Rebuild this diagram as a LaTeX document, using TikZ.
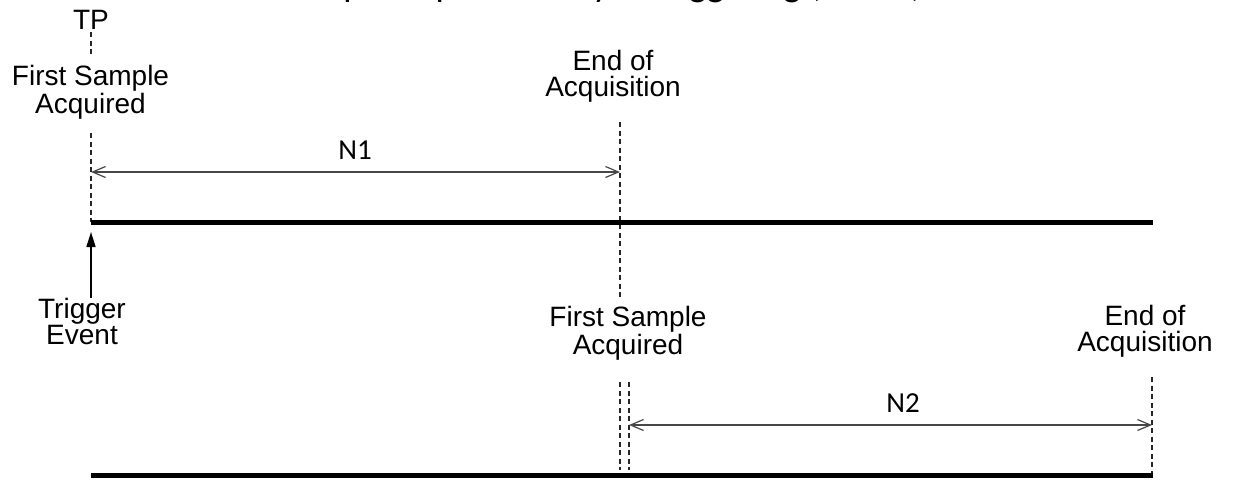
\documentclass[tikz,border=0pt]{standalone}
\usepackage{fontspec}
\setmainfont{Liberation Sans}
\newfontfamily\calib{Carlito}
\usetikzlibrary{arrows.meta}
\begin{document}
\begin{tikzpicture}[x=1pt,y=-1pt,
  lbl/.style={font=\fontsize{28}{25.5}\selectfont, align=center, anchor=base, inner sep=0pt},
  nlbl/.style={font=\calib\fontsize{29}{32}\selectfont, anchor=base, inner sep=0pt},
  marker/.style={draw=black!85, line width=1.2pt, dash pattern=on 5pt off 3.5pt},
  timeline/.style={draw=black, line width=5pt},
  span/.style={draw=black!72, line width=1.6pt, {Straight Barb[length=13pt,width=11pt,line width=1.2pt]}-{Straight Barb[length=13pt,width=11pt,line width=1.2pt]}},
  trig/.style={draw=black, line width=1.6pt, -{Triangle[length=15pt,width=9pt]}}]
\useasboundingbox (0,0) rectangle (1233,480);
% title (cut off by the page edge, as in the reference)
\node[font=\calib\fontsize{37}{40}\selectfont, anchor=base west, inner sep=0pt] (title) at (279,-4) {Sample Capture Delay Retriggering (TP = 0)};
% labels (anchor = baseline of the last line)
\node[lbl] (tp) at (91,29) {TP};
\node[lbl] (fsa1) at (90.5,113) {First Sample\\Acquired};
\node[lbl] (eoa1) at (613,96) {End of\\Acquisition};
\node[lbl] (trig) at (82,344) {Trigger\\Event};
\node[lbl] (fsa2) at (628,354) {First Sample\\Acquired};
\node[lbl] (eoa2) at (1145,351) {End of\\Acquisition};
\node[nlbl] (n1) at (355,159) {N1};
\node[nlbl] (n2) at (903,412) {N2};
% coordinates
\coordinate (tA) at (91,222);
\coordinate (tB) at (1153,222);
\coordinate (bA) at (91,475);
\coordinate (bB) at (1153,475);
\coordinate (m1a) at (91,32);  \coordinate (m1b) at (91,57);
\coordinate (m1c) at (91,133);
\coordinate (m2a) at (620,122); \coordinate (m2b) at (620,300);
\coordinate (m2c) at (620,382); \coordinate (m2d) at (620,470);
\coordinate (m3a) at (629,382); \coordinate (m3d) at (629,470);
\coordinate (m4a) at (1152,377); \coordinate (m4d) at (1152,475);
\coordinate (a1l) at (91,172);  \coordinate (a1r) at (620,172);
\coordinate (a2l) at (629,425); \coordinate (a2r) at (1152,425);
\coordinate (trs) at (91,298);  \coordinate (trt) at (91,232);
% dashed markers
\draw[marker] (m1a) -- (m1b);
\draw[marker] (m1c) -- (tA);
\draw[marker] (m2a) -- (m2b);
\draw[marker] (m2c) -- (m2d);
\draw[marker] (m3a) -- (m3d);
\draw[marker] (m4a) -- (m4d);
% timelines
\draw[timeline] (tA) -- (tB);
\draw[timeline] (bA) -- (bB);
% spans
\draw[span] (a1l) -- (a1r);
\draw[span] (a2l) -- (a2r);
% trigger
\draw[trig] (trs) -- (trt);
\end{tikzpicture}
\end{document}
